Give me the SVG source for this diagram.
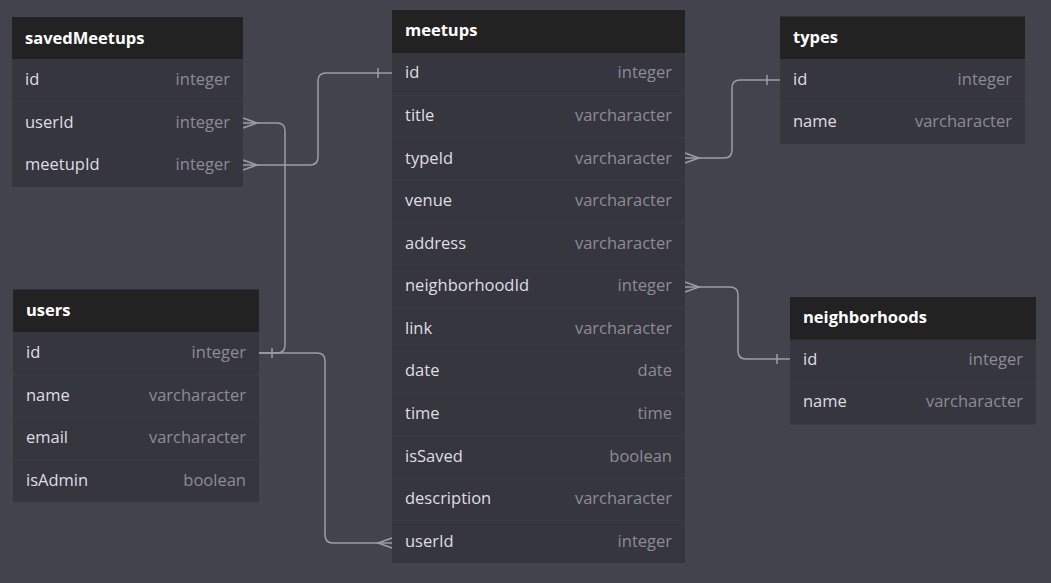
<svg xmlns="http://www.w3.org/2000/svg" width="1051" height="583" viewBox="0 0 1051 583">
<style>
.bg{fill:#43434d}
.body{fill:#36363f}
.head{fill:#222222}
.sep{stroke:#3b3b44;stroke-width:1}
.title{font-family:"Open Sans","Noto Sans",sans-serif;font-weight:700;font-size:16.5px;fill:#ffffff}
.fname{font-family:"Open Sans","Noto Sans",sans-serif;font-size:16.5px;fill:#dedee2}
.ftype{font-family:"Open Sans","Noto Sans",sans-serif;font-size:16.5px;fill:#8c8c95;text-anchor:end}
.conn{fill:none;stroke:#9d9da7;stroke-width:1.5}
</style>
<rect class="bg" x="0" y="0" width="1051" height="583"/>

<g id="connectors">
  <path class="conn" d="M243,165 H310 Q318,165 318,157 V81 Q318,73 326,73 H392"/>
  <path class="conn" d="M243,160 L257,165 L243,170"/>
  <path class="conn" d="M378,68 V78"/>

  <path class="conn" d="M243,123 H277 Q285,123 285,131 V345 Q285,353 277,353 H259"/>
  <path class="conn" d="M243,118 L257,123 L243,128"/>
  <path class="conn" d="M272,348 V358"/>

  <path class="conn" d="M259,353 H317 Q325,353 325,361 V535 Q325,543 333,543 H392"/>
  <path class="conn" d="M392,538 L378,543 L392,548"/>

  <path class="conn" d="M685,158 H724 Q732,158 732,150 V88 Q732,80 740,80 H780"/>
  <path class="conn" d="M685,153 L699,158 L685,163"/>
  <path class="conn" d="M767,75 V85"/>

  <path class="conn" d="M685,287 H730 Q738,287 738,295 V351 Q738,359 746,359 H790"/>
  <path class="conn" d="M685,282 L699,287 L685,292"/>
  <path class="conn" d="M777,354 V364"/>
</g>

<g id="savedMeetups" transform="translate(12,17)">
  <rect class="body" x="0" y="0" width="231" height="170"/>
  <rect class="head" x="0" y="0" width="231" height="42"/>
  <line class="sep" x1="0" y1="84.5" x2="231" y2="84.5"/>
  <line class="sep" x1="0" y1="127" x2="231" y2="127"/>
  <text class="title" x="13" y="27">savedMeetups</text>
  <text class="fname" x="13" y="68">id</text><text class="ftype" x="218" y="68">integer</text>
  <text class="fname" x="13" y="111">userId</text><text class="ftype" x="218" y="111">integer</text>
  <text class="fname" x="13" y="153">meetupId</text><text class="ftype" x="218" y="153">integer</text>
</g>

<g id="users" transform="translate(13,289.5)">
  <rect class="body" x="0" y="0" width="246" height="212.5"/>
  <rect class="head" x="0" y="0" width="246" height="42.5"/>
  <line class="sep" x1="0" y1="85" x2="246" y2="85"/>
  <line class="sep" x1="0" y1="127.5" x2="246" y2="127.5"/>
  <line class="sep" x1="0" y1="170" x2="246" y2="170"/>
  <text class="title" x="13" y="26">users</text>
  <text class="fname" x="13" y="68">id</text><text class="ftype" x="233" y="68">integer</text>
  <text class="fname" x="13" y="111">name</text><text class="ftype" x="233" y="111">varcharacter</text>
  <text class="fname" x="13" y="153">email</text><text class="ftype" x="233" y="153">varcharacter</text>
  <text class="fname" x="13" y="196">isAdmin</text><text class="ftype" x="233" y="196">boolean</text>
</g>

<g id="meetups" transform="translate(392,10)">
  <rect class="body" x="0" y="0" width="293" height="553"/>
  <rect class="head" x="0" y="0" width="293" height="43"/>
  <g class="sep">
    <line x1="0" y1="85.5" x2="293" y2="85.5"/>
    <line x1="0" y1="128" x2="293" y2="128"/>
    <line x1="0" y1="170.5" x2="293" y2="170.5"/>
    <line x1="0" y1="213" x2="293" y2="213"/>
    <line x1="0" y1="255.5" x2="293" y2="255.5"/>
    <line x1="0" y1="298" x2="293" y2="298"/>
    <line x1="0" y1="340.5" x2="293" y2="340.5"/>
    <line x1="0" y1="383" x2="293" y2="383"/>
    <line x1="0" y1="425.5" x2="293" y2="425.5"/>
    <line x1="0" y1="468" x2="293" y2="468"/>
    <line x1="0" y1="510.5" x2="293" y2="510.5"/>
  </g>
  <text class="title" x="13" y="26">meetups</text>
  <text class="fname" x="13" y="68">id</text><text class="ftype" x="280" y="68">integer</text>
  <text class="fname" x="13" y="111">title</text><text class="ftype" x="280" y="111">varcharacter</text>
  <text class="fname" x="13" y="154">typeId</text><text class="ftype" x="280" y="154">varcharacter</text>
  <text class="fname" x="13" y="196">venue</text><text class="ftype" x="280" y="196">varcharacter</text>
  <text class="fname" x="13" y="239">address</text><text class="ftype" x="280" y="239">varcharacter</text>
  <text class="fname" x="13" y="281">neighborhoodId</text><text class="ftype" x="280" y="281">integer</text>
  <text class="fname" x="13" y="324">link</text><text class="ftype" x="280" y="324">varcharacter</text>
  <text class="fname" x="13" y="366">date</text><text class="ftype" x="280" y="366">date</text>
  <text class="fname" x="13" y="409">time</text><text class="ftype" x="280" y="409">time</text>
  <text class="fname" x="13" y="452">isSaved</text><text class="ftype" x="280" y="452">boolean</text>
  <text class="fname" x="13" y="494">description</text><text class="ftype" x="280" y="494">varcharacter</text>
  <text class="fname" x="13" y="537">userId</text><text class="ftype" x="280" y="537">integer</text>
</g>

<g id="types" transform="translate(780,16.5)">
  <rect class="body" x="0" y="0" width="245" height="127.5"/>
  <rect class="head" x="0" y="0" width="245" height="42.5"/>
  <line class="sep" x1="0" y1="85" x2="245" y2="85"/>
  <text class="title" x="13" y="26">types</text>
  <text class="fname" x="13" y="68">id</text><text class="ftype" x="232" y="68">integer</text>
  <text class="fname" x="13" y="110">name</text><text class="ftype" x="232" y="110">varcharacter</text>
</g>

<g id="neighborhoods" transform="translate(790,297)">
  <rect class="body" x="0" y="0" width="246" height="127.5"/>
  <rect class="head" x="0" y="0" width="246" height="42.5"/>
  <line class="sep" x1="0" y1="85" x2="246" y2="85"/>
  <text class="title" x="13" y="26">neighborhoods</text>
  <text class="fname" x="13" y="68">id</text><text class="ftype" x="233" y="68">integer</text>
  <text class="fname" x="13" y="110">name</text><text class="ftype" x="233" y="110">varcharacter</text>
</g>
</svg>
